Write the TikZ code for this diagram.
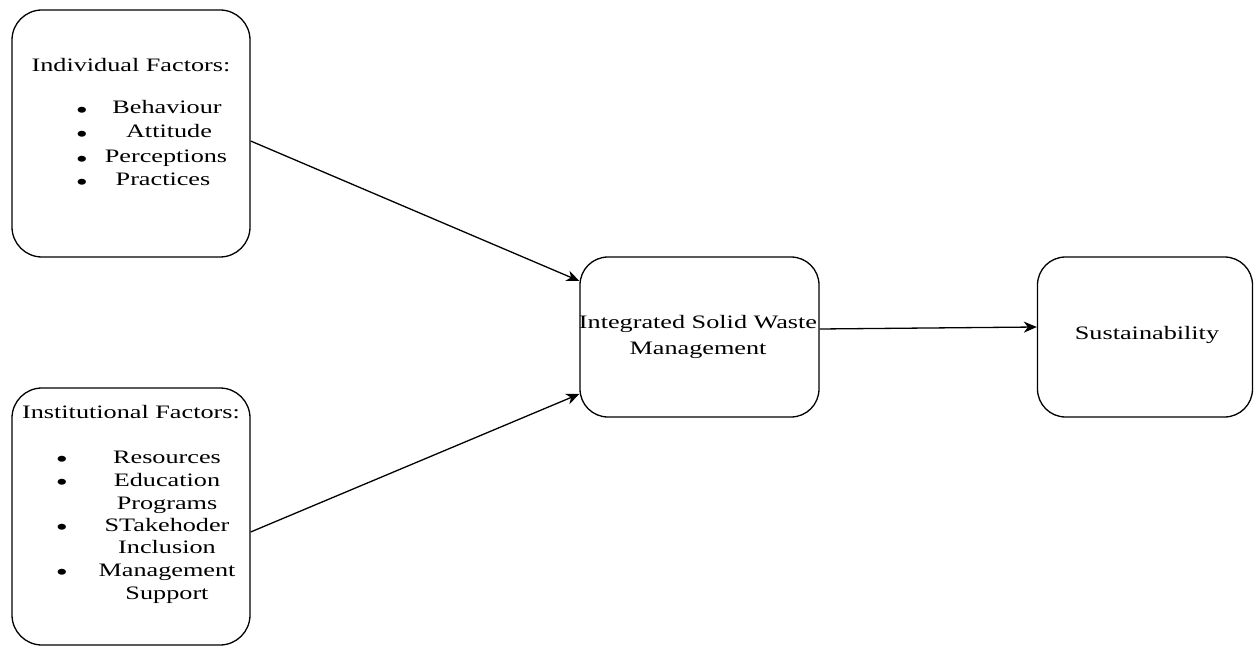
\documentclass[tikz,border=0pt]{standalone}
\usepackage{fontspec}
\setmainfont[FakeStretch=1.38]{Liberation Serif}
\usetikzlibrary{arrows.meta}
\begin{document}
\begin{tikzpicture}[x=1pt,y=-1pt,
  box/.style={draw, line width=1.3pt, rounded corners=30pt, inner sep=0pt},
  lbl/.style={inner sep=0pt, font=\fontsize{19}{22}\selectfont, anchor=base},
  dot/.style={inner sep=0pt, font=\fontsize{25}{25}\selectfont, anchor=base, yshift=-4.5pt},
  link/.style={line width=1.3pt, -{Stealth[length=13pt,width=11pt,inset=4pt]}}]
\useasboundingbox (0,0) rectangle (1254,647);

% boxes
\node[box, minimum width=238pt, minimum height=247pt] (b1) at (131,133.5) {};
\node[box, minimum width=238pt, minimum height=257pt] (b2) at (131,516.5) {};
\node[box, rounded corners=28pt, minimum width=239pt, minimum height=160pt] (b3) at (699.5,337) {};
\node[box, rounded corners=28pt, minimum width=215pt, minimum height=160pt] (b4) at (1145,337) {};

% individual factors
\node[lbl] (t1) at (131,72) {Individual Factors:};
\node[dot] (d11) at (82,114) {\textbullet};
\node[dot] (d12) at (82,138) {\textbullet};
\node[dot] (d13) at (82,163) {\textbullet};
\node[dot] (d14) at (82,186) {\textbullet};
\node[lbl] (i11) at (167,114) {Behaviour};
\node[lbl] (i12) at (169,138) {Attitude};
\node[lbl] (i13) at (166,163) {Perceptions};
\node[lbl] (i14) at (163,186) {Practices};

% institutional factors
\node[lbl] (t2) at (131,418) {Institutional Factors:};
\node[dot] (d21) at (62,463) {\textbullet};
\node[dot] (d22) at (62,486) {\textbullet};
\node[dot] (d23) at (62,531) {\textbullet};
\node[dot] (d24) at (62,576) {\textbullet};
\node[lbl] (i21) at (167,463) {Resources};
\node[lbl] (i22) at (167,486) {Education};
\node[lbl] (i23) at (167,509) {Programs};
\node[lbl] (i24) at (167,531) {STakehoder};
\node[lbl] (i25) at (167,553) {Inclusion};
\node[lbl] (i26) at (167,576) {Management};
\node[lbl] (i27) at (167,599) {Support};

% centre and right boxes
\node[lbl] (t3a) at (698,329) {Integrated Solid Waste};
\node[lbl] (t3b) at (698,354) {Management};
\node[lbl] (t4) at (1147,339) {Sustainability};

% connectors
\coordinate (s1) at ([yshift=-7.5pt]b1.east);
\coordinate (e1) at ([yshift=56pt]b3.west);
\coordinate (s2) at ([yshift=-15.5pt]b2.east);
\coordinate (e2) at ([yshift=-57pt]b3.west);
\coordinate (s3) at ([yshift=8pt]b3.east);
\coordinate (e3) at ([yshift=10pt]b4.west);
\draw[link] (s1) -- (e1);
\draw[link] (s2) -- (e2);
\draw[link] (s3) -- (e3);
\end{tikzpicture}
\end{document}
